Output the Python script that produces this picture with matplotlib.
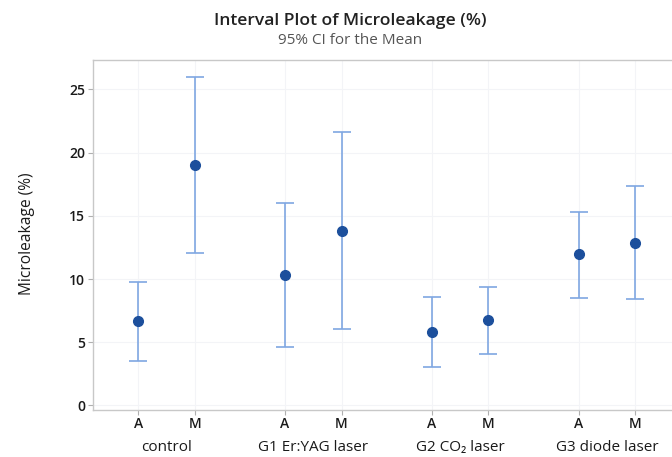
import numpy as np
import matplotlib
matplotlib.use("Agg")
import matplotlib.pyplot as plt
from matplotlib.transforms import blended_transform_factory

plt.rcParams['font.family'] = ['Open Sans', 'DejaVu Sans']

# data
groups = ['control', 'G1 Er:YAG laser', 'G2 CO\u2082 laser', 'G3 diode laser']
levels = ['A', 'M']
means = [6.65, 19.0, 10.35, 13.8, 5.8, 6.75, 11.95, 12.85]
upper = [9.8, 26.0, 16.0, 21.6, 8.6, 9.4, 15.3, 17.35]
lower = [3.55, 12.1, 4.65, 6.05, 3.05, 4.1, 8.5, 8.4]

#positions: A, M inside each group, gap between groups
gap = 2.6
xpos = []
for i in range(len(groups)):
    for j in range(len(levels)):
        xpos.append(i * gap + j)
xpos = np.array(xpos)
means = np.array(means)
yerr = [means - np.array(lower), np.array(upper) - means]

fig = plt.figure(figsize=(6.72, 4.57), dpi=100)
ax = fig.add_axes([0.1384, 0.1028, 0.8616, 0.7659])

bar_col = '#7fa7e2'
dot_col = '#1c4f9c'
ax.errorbar(xpos, means, yerr=yerr, fmt='none', ecolor=bar_col,
            elinewidth=1.2, capsize=6.5, capthick=1.2, zorder=2)
ax.plot(xpos, means, 'o', color=dot_col, markersize=7, zorder=3)

ax.set_xlim(-0.8, 9.45)
ax.set_ylim(-0.36, 27.33)
ax.set_yticks([0, 5, 10, 15, 20, 25])
ax.set_xticks(xpos)
ax.set_xticklabels(levels * len(groups))

#faint grid
ax.grid(True, color='#f3f4f7', linewidth=0.8)
ax.set_axisbelow(True)

for s in ['left', 'bottom', 'top']:
    ax.spines[s].set_color('#c8c8c8')
    ax.spines[s].set_linewidth(1.0)
ax.spines['right'].set_visible(False)
ax.tick_params(axis='both', colors='#b0b0b0', length=3.5, width=0.8,
               labelcolor='#1a1a1a', labelsize=10)
for lab in ax.get_yticklabels() + ax.get_xticklabels():
    lab.set_fontweight('semibold')
ax.tick_params(axis='x', pad=1.5)
ax.tick_params(axis='y', pad=2)

ax.set_ylabel('Microleakage (%)', fontsize=11.2, color='#1a1a1a')
ax.yaxis.set_label_coords(-0.101, 0.503)

#group labels under the axis
trans = blended_transform_factory(ax.transData, fig.transFigure)
for i, g in enumerate(groups):
    ax.text(i * gap + 0.5, 0.0197, g, transform=trans, ha='center',
            va='center', fontsize=11, color='#1a1a1a')

fig.text(0.521, 0.954, 'Interval Plot of Microleakage (%)', ha='center',
         va='center', fontsize=12.6, fontweight='semibold', color='#222222')
fig.text(0.521, 0.911, '95% CI for the Mean', ha='center', va='center',
         fontsize=11, color='#555555')

fig.savefig('out.png', dpi=100)
